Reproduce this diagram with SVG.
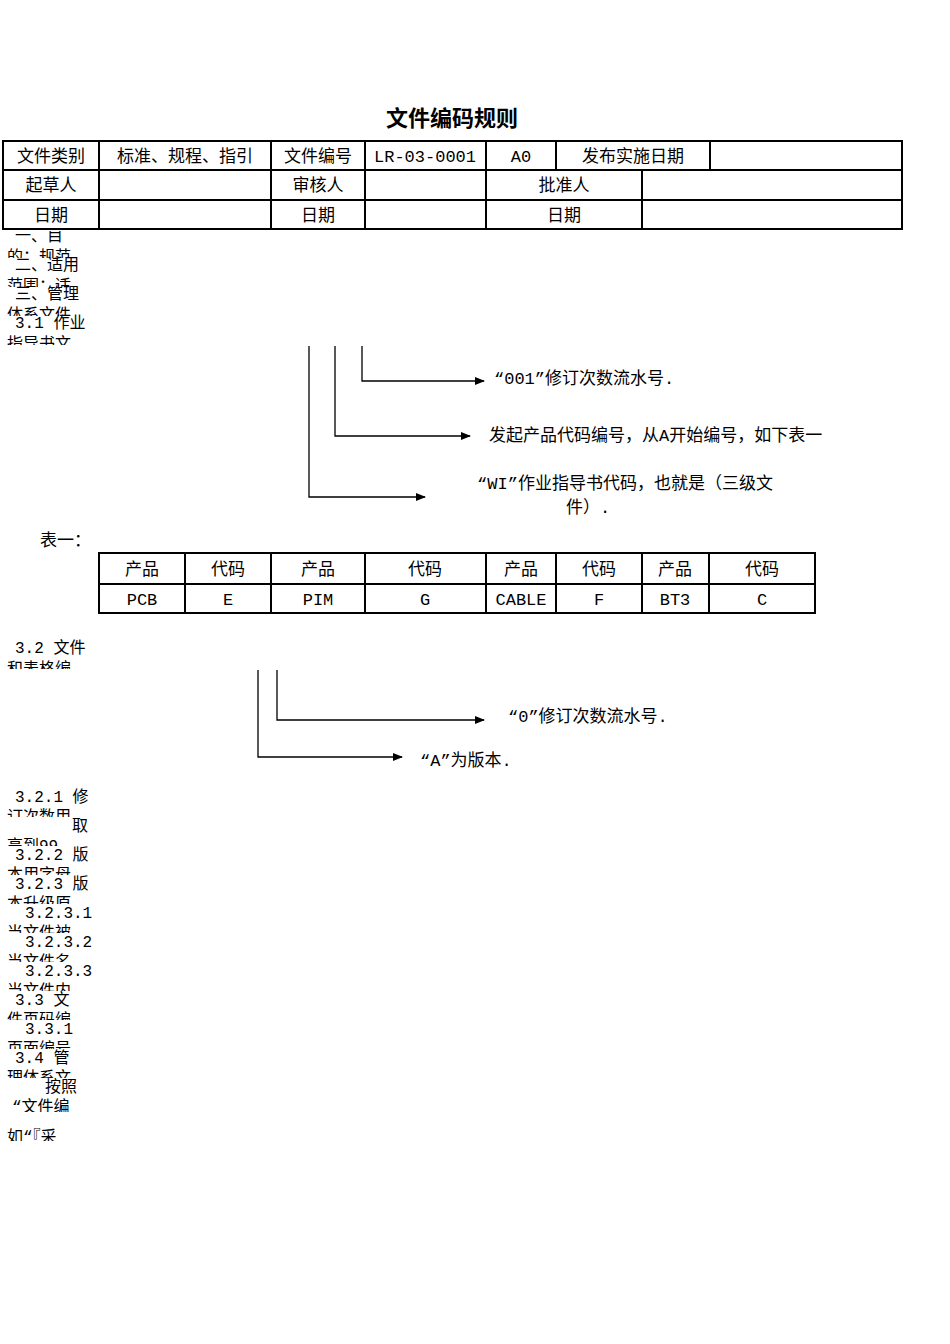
<svg xmlns="http://www.w3.org/2000/svg" width="950" height="1344" viewBox="0 0 950 1344">
<defs>
<marker id="ar" markerWidth="10" markerHeight="8" refX="9" refY="4" orient="auto" markerUnits="userSpaceOnUse"><path d="M0,0 L10,4 L0,8 z" fill="#000"/></marker>
<clipPath id="c1"><rect x="0" y="231" width="100" height="27"/></clipPath>
<clipPath id="c2"><rect x="0" y="253" width="100" height="34"/></clipPath>
<clipPath id="c3"><rect x="0" y="282" width="100" height="34"/></clipPath>
<clipPath id="c4"><rect x="0" y="311" width="100" height="34"/></clipPath>
<clipPath id="c5"><rect x="0" y="636" width="100" height="33"/></clipPath>
<clipPath id="k1"><rect x="0" y="805" width="100" height="12"/></clipPath>
<clipPath id="k2"><rect x="0" y="834" width="100" height="12"/></clipPath>
<clipPath id="k3"><rect x="0" y="863" width="100" height="12"/></clipPath>
<clipPath id="k4"><rect x="0" y="892" width="100" height="12"/></clipPath>
<clipPath id="k5"><rect x="0" y="921" width="100" height="12"/></clipPath>
<clipPath id="k6"><rect x="0" y="950" width="100" height="12"/></clipPath>
<clipPath id="k7"><rect x="0" y="979" width="100" height="12"/></clipPath>
<clipPath id="k8"><rect x="0" y="1008" width="100" height="12"/></clipPath>
<clipPath id="k9"><rect x="0" y="1037" width="100" height="12"/></clipPath>
<clipPath id="k10"><rect x="0" y="1066" width="100" height="12"/></clipPath>
<clipPath id="k11"><rect x="0" y="1095" width="100" height="17"/></clipPath>
<clipPath id="k12"><rect x="0" y="1128" width="100" height="13"/></clipPath>
</defs>
<style>
text{font-family:"Liberation Mono","Noto Sans CJK SC",monospace;font-size:17px;fill:#000}
.c{text-anchor:middle}
.t{fill:none;stroke:#000;stroke-width:2}
.l{stroke:#000;stroke-width:1.3;fill:none}
.s{font-size:16px}
</style>
<rect width="950" height="1344" fill="#fff"/>
<text x="452" y="126" class="c" style="font-size:22px;font-weight:bold;font-family:'Noto Sans CJK SC',sans-serif">文件编码规则</text>
<g id="header-table">
<rect x="3" y="141" width="899" height="88" class="t"/>
<path class="t" d="M3 170H902M3 200H902M99 141V229M271 141V229M365 141V229M486 141V229M556 141V170M710 141V170M642 170V229"/>
<text x="51" y="162" class="c">文件类别</text>
<text x="185" y="162" class="c">标准、规程、指引</text>
<text x="318" y="162" class="c">文件编号</text>
<text x="425" y="162" class="c">LR-03-0001</text>
<text x="521" y="162" class="c">A0</text>
<text x="633" y="162" class="c">发布实施日期</text>
<text x="51" y="191" class="c">起草人</text>
<text x="318" y="191" class="c">审核人</text>
<text x="564" y="191" class="c">批准人</text>
<text x="51" y="221" class="c">日期</text>
<text x="318" y="221" class="c">日期</text>
<text x="564" y="221" class="c">日期</text>
</g>
<g id="left-notes">
<g clip-path="url(#c1)"><text x="15" y="241" class="s">一、目</text><text x="7" y="262" class="s">的：规范</text></g>
<g clip-path="url(#c2)"><text x="15" y="270" class="s">二、适用</text><text x="7" y="291" class="s">范围：适</text></g>
<g clip-path="url(#c3)"><text x="15" y="299" class="s">三、管理</text><text x="7" y="320" class="s">体系文件</text></g>
<g clip-path="url(#c4)"><text x="15" y="328" class="s">3.1 作业</text><text x="7" y="349" class="s">指导书文</text></g>
<g clip-path="url(#c5)"><text x="15" y="653" class="s">3.2 文件</text><text x="7" y="674" class="s">和表格编</text></g>
</g>
<g id="connectors">
<path class="l" d="M362 346V381H484" marker-end="url(#ar)"/>
<path class="l" d="M335 346V436H470" marker-end="url(#ar)"/>
<path class="l" d="M309 346V497H425" marker-end="url(#ar)"/>
<path class="l" d="M277 670V720H484" marker-end="url(#ar)"/>
<path class="l" d="M258 670V757H402" marker-end="url(#ar)"/>
</g>
<g id="labels1">
<text x="494" y="384">“001”修订次数流水号.</text>
<text x="489" y="441">发起产品代码编号，从A开始编号，如下表一</text>
<text x="625" y="489" class="c">“WI”作业指导书代码，也就是（三级文</text>
<text x="588" y="513" class="c">件）.</text>
</g>
<text x="40" y="546">表一：</text>
<g id="product-table">
<rect x="99" y="553" width="716" height="60" class="t"/>
<path class="t" d="M99 584H815M185 553V613M271 553V613M365 553V613M486 553V613M556 553V613M642 553V613M709 553V613"/>
<text x="142" y="575" class="c">产品</text><text x="228" y="575" class="c">代码</text>
<text x="318" y="575" class="c">产品</text><text x="425" y="575" class="c">代码</text>
<text x="521" y="575" class="c">产品</text><text x="599" y="575" class="c">代码</text>
<text x="675" y="575" class="c">产品</text><text x="762" y="575" class="c">代码</text>
<text x="142" y="605" class="c">PCB</text><text x="228" y="605" class="c">E</text>
<text x="318" y="605" class="c">PIM</text><text x="425" y="605" class="c">G</text>
<text x="521" y="605" class="c">CABLE</text><text x="599" y="605" class="c">F</text>
<text x="675" y="605" class="c">BT3</text><text x="762" y="605" class="c">C</text>
</g>
<g id="labels2">
<text x="508" y="722">“0”修订次数流水号.</text>
<text x="420" y="766">“A”为版本.</text>
</g>
<g id="left-notes-2">
<text x="15" y="802" class="s">3.2.1 修</text>
<text x="72" y="831" class="s">取</text>
<text x="15" y="860" class="s">3.2.2 版</text>
<text x="15" y="889" class="s">3.2.3 版</text>
<text x="25" y="918" class="s">3.2.3.1</text>
<text x="25" y="947" class="s">3.2.3.2</text>
<text x="25" y="976" class="s">3.2.3.3</text>
<text x="15" y="1005" class="s">3.3  文</text>
<text x="25" y="1034" class="s">3.3.1</text>
<text x="15" y="1063" class="s">3.4  管</text>
<text x="45" y="1092" class="s">按照</text>
</g>
<g id="left-notes-3">
<text x="7" y="822" class="s" clip-path="url(#k1)">订次数用</text>
<text x="7" y="851" class="s" clip-path="url(#k2)">高到99</text>
<text x="7" y="880" class="s" clip-path="url(#k3)">本用字母</text>
<text x="7" y="909" class="s" clip-path="url(#k4)">本升级原</text>
<text x="7" y="938" class="s" clip-path="url(#k5)">当文件被</text>
<text x="7" y="967" class="s" clip-path="url(#k6)">当文件名</text>
<text x="7" y="996" class="s" clip-path="url(#k7)">当文件内</text>
<text x="7" y="1025" class="s" clip-path="url(#k8)">件页码编</text>
<text x="7" y="1054" class="s" clip-path="url(#k9)">页面编号</text>
<text x="7" y="1083" class="s" clip-path="url(#k10)">理体系文</text>
<text x="12" y="1112" class="s" clip-path="url(#k11)">“文件编</text>
<text x="7" y="1142" class="s" clip-path="url(#k12)">如“『采</text>
</g>
</svg>
